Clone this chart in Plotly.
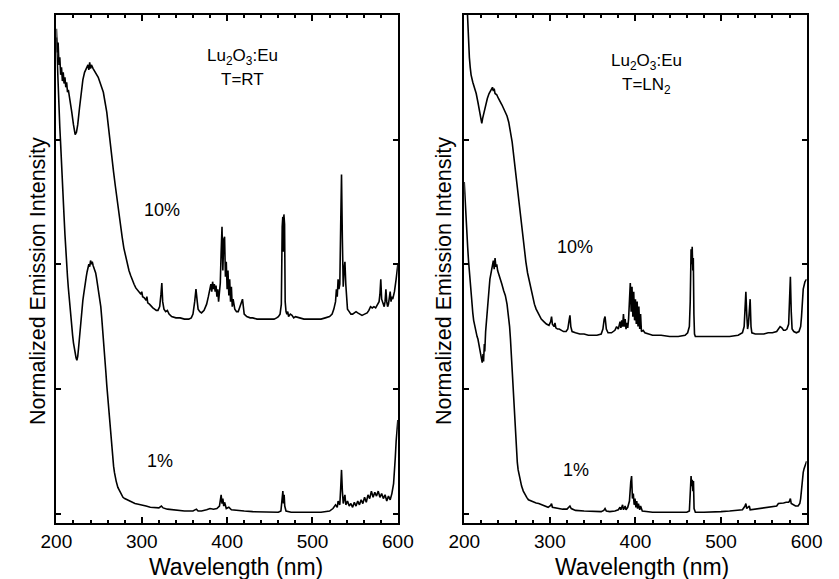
import plotly.graph_objects as go

# ---- Emission spectra of Lu2O3:Eu (wavelength in nm, normalized intensity, stacked) ----

# Room temperature, 10 % Eu
rt10_wl = [200, 201, 202, 203, 204, 205, 206, 207, 208, 209, 210, 211, 212, 213, 214, 216, 218, 220, 222, 223.5,
           225, 227, 229, 231, 233, 235, 237, 238, 239, 240, 241, 243, 245, 247, 249, 251, 253, 255, 257, 259,
           261, 263, 265, 267, 269, 271, 273, 275, 277, 279, 281, 283, 285, 287, 289, 291, 293, 295, 297, 299,
           300, 301, 303, 305, 306, 307, 309, 311, 313, 315, 317, 319, 321, 322.5, 323.5, 324.5, 326, 328, 330, 332,
           335, 340, 345, 350, 355, 358, 360, 362, 363.5, 365, 366, 368, 370, 373, 376, 378, 380, 381, 382, 383,
           384, 385, 386, 387, 388, 389, 390, 391, 392, 393, 394, 395, 396, 397, 398, 399, 400, 401, 402, 403,
           404, 405, 406, 407, 409, 411, 413, 415, 417, 418, 419, 420, 423, 427, 430, 435, 440, 445, 450, 455,
           458, 460, 462, 463.5, 464.5, 465.2, 465.8, 466.5, 467.3, 468, 469, 470, 471, 472, 474, 476, 478, 480, 485, 490,
           495, 500, 505, 510, 515, 520, 523, 525, 527, 528, 529, 530, 531, 532, 533, 534, 535, 536, 537, 538,
           539, 540, 541, 543, 545, 547, 549, 551, 553, 555, 558, 561, 564, 566, 568, 570, 572, 574, 576, 578,
           579, 580, 581, 582, 583, 584, 585, 586, 587, 588, 589, 590, 591, 592, 593, 594, 596, 598, 600]
rt10_int = [3.89, 3.70, 3.78, 3.60, 3.66, 3.52, 3.58, 3.47, 3.54, 3.45, 3.50, 3.42, 3.46, 3.38, 3.40, 3.32, 3.22, 3.12, 3.04, 3.06,
            3.12, 3.25, 3.38, 3.48, 3.54, 3.57, 3.60, 3.56, 3.62, 3.57, 3.60, 3.57, 3.55, 3.53, 3.50, 3.46, 3.42, 3.38, 3.30, 3.22,
            3.10, 2.96, 2.85, 2.74, 2.63, 2.52, 2.42, 2.32, 2.22, 2.13, 2.06, 2.00, 1.95, 1.91, 1.87, 1.84, 1.81, 1.79, 1.77, 1.76,
            1.78, 1.74, 1.73, 1.71, 1.74, 1.69, 1.68, 1.66, 1.65, 1.64, 1.63, 1.63, 1.66, 1.76, 1.85, 1.70, 1.64, 1.62, 1.63, 1.60,
            1.58, 1.57, 1.57, 1.56, 1.56, 1.57, 1.60, 1.70, 1.80, 1.70, 1.64, 1.62, 1.61, 1.63, 1.68, 1.74, 1.80, 1.84, 1.78, 1.86,
            1.80, 1.84, 1.78, 1.83, 1.74, 1.80, 1.70, 1.76, 1.85, 2.10, 2.30, 1.95, 2.20, 2.22, 1.90, 2.02, 1.80, 1.95, 1.75, 1.88,
            1.70, 1.82, 1.66, 1.72, 1.64, 1.62, 1.62, 1.66, 1.71, 1.72, 1.66, 1.60, 1.58, 1.57, 1.57, 1.56, 1.56, 1.56, 1.56, 1.56,
            1.57, 1.58, 1.60, 1.68, 2.30, 2.38, 2.10, 2.40, 2.32, 1.70, 1.62, 1.60, 1.62, 1.58, 1.60, 1.59, 1.57, 1.58, 1.57, 1.56,
            1.56, 1.56, 1.56, 1.56, 1.57, 1.58, 1.60, 1.64, 1.70, 1.80, 1.74, 1.88, 1.80, 1.84, 2.30, 2.72, 2.20, 1.82, 1.96, 2.02,
            1.84, 1.70, 1.64, 1.62, 1.60, 1.60, 1.61, 1.62, 1.61, 1.60, 1.59, 1.60, 1.61, 1.63, 1.66, 1.65, 1.66, 1.65, 1.68, 1.70,
            1.76, 1.88, 1.72, 1.70, 1.68, 1.66, 1.70, 1.80, 1.70, 1.66, 1.68, 1.72, 1.78, 1.70, 1.74, 1.72, 1.78, 1.88, 2.00]

# Room temperature, 1 % Eu
rt1_wl = [200, 201, 202, 203, 204, 205, 206, 207, 208, 209, 210, 211, 212, 213, 214, 215, 216, 217, 218, 219,
          220, 221, 222, 223, 224, 225, 226, 227, 228, 229, 230, 231, 232, 233, 234, 235, 236, 237, 238, 239,
          240, 241, 242, 243, 244, 245, 246, 247, 248, 249, 250, 251, 252, 253, 254, 255, 256, 257, 258, 259,
          260, 261, 262, 263, 264, 265, 266, 267, 268, 269, 270, 272, 274, 276, 278, 280, 283, 286, 289, 292,
          296, 300, 305, 310, 315, 320, 323, 325, 330, 340, 350, 360, 364, 366, 370, 376, 380, 384, 388, 391,
          393, 394, 395, 396, 397, 399, 402, 405, 410, 420, 430, 440, 450, 460, 463, 464.5, 465.3, 466, 466.8, 467.5,
          469, 475, 480, 490, 500, 510, 520, 524, 527, 529, 530, 532, 533, 534, 535, 536, 537, 538, 539, 541,
          543, 545, 547, 549, 551, 553, 555, 557, 559, 561, 563, 565, 567, 569, 571, 573, 575, 577, 579, 581,
          583, 585, 587, 589, 591, 593, 595, 596, 597, 598, 599, 600]
rt1_int = [3.82, 3.60, 3.42, 3.30, 3.10, 2.96, 2.78, 2.62, 2.50, 2.38, 2.24, 2.10, 2.00, 1.90, 1.81, 1.72, 1.64, 1.56, 1.50, 1.43,
           1.37, 1.32, 1.28, 1.25, 1.23, 1.26, 1.33, 1.42, 1.52, 1.60, 1.66, 1.71, 1.76, 1.82, 1.86, 1.90, 1.94, 1.97, 2.00, 1.98,
           2.03, 2.00, 2.02, 1.99, 1.97, 1.95, 1.93, 1.89, 1.85, 1.81, 1.77, 1.72, 1.66, 1.58, 1.50, 1.41, 1.32, 1.23, 1.13, 1.03,
           0.94, 0.86, 0.77, 0.68, 0.59, 0.51, 0.44, 0.38, 0.33, 0.29, 0.26, 0.21, 0.18, 0.15, 0.13, 0.12, 0.11, 0.10, 0.09, 0.08,
           0.075, 0.07, 0.06, 0.05, 0.045, 0.045, 0.06, 0.045, 0.035, 0.025, 0.02, 0.02, 0.035, 0.02, 0.02, 0.03, 0.04, 0.035, 0.04, 0.06,
           0.15, 0.08, 0.12, 0.06, 0.09, 0.04, 0.05, 0.03, 0.025, 0.02, 0.015, 0.015, 0.01, 0.01, 0.02, 0.12, 0.18, 0.08, 0.15, 0.06,
           0.02, 0.01, 0.01, 0.01, 0.01, 0.01, 0.02, 0.04, 0.07, 0.05, 0.10, 0.07, 0.20, 0.35, 0.18, 0.08, 0.12, 0.15, 0.07, 0.10,
           0.06, 0.08, 0.05, 0.09, 0.06, 0.10, 0.07, 0.11, 0.08, 0.13, 0.09, 0.15, 0.12, 0.18, 0.13, 0.17, 0.14, 0.18, 0.13, 0.16,
           0.12, 0.15, 0.10, 0.14, 0.11, 0.16, 0.24, 0.32, 0.45, 0.58, 0.68, 0.75]

# Liquid nitrogen, 10 % Eu
ln10_wl = [200, 202, 204, 205, 206, 207, 208, 210, 212, 214, 216, 218, 219.5, 220.5, 221.5, 223, 225, 227, 229, 231,
           233, 234, 235, 236, 238, 240, 242, 244, 246, 248, 250, 252, 254, 256, 258, 260, 262, 264, 266, 268,
           270, 272, 274, 276, 278, 280, 282, 284, 286, 288, 290, 293, 296, 299, 301, 302, 303, 305, 306, 307,
           309, 311, 313, 316, 319, 321, 322.5, 323.5, 324.5, 326, 330, 335, 340, 345, 350, 355, 360, 362, 363.5, 364.5,
           366, 368, 372, 376, 378, 380, 382, 383, 384, 385, 386, 387, 388, 389, 390, 391, 392, 393, 394, 395,
           396, 397, 398, 399, 400, 401, 402, 403, 404, 405, 406, 407, 409, 411, 415, 420, 430, 440, 450, 458,
           461, 463, 464, 465, 465.7, 466.3, 467, 467.6, 468.3, 469, 470, 475, 480, 490, 500, 510, 520, 525, 527, 528,
           529, 530, 531, 532, 533, 534, 535, 536, 540, 545, 550, 555, 560, 565, 567, 569, 571, 573, 575, 577,
           579, 580, 581, 582, 583, 585, 588, 591, 593, 594, 595, 596, 598, 600]
ln10_int = [4.60, 4.25, 3.98, 3.80, 3.66, 3.58, 3.52, 3.46, 3.42, 3.37, 3.30, 3.22, 3.16, 3.13, 3.17, 3.22, 3.28, 3.33, 3.37, 3.40,
            3.42, 3.39, 3.41, 3.37, 3.36, 3.33, 3.31, 3.28, 3.25, 3.22, 3.19, 3.14, 3.07, 2.98, 2.86, 2.74, 2.60, 2.47, 2.35, 2.24,
            2.13, 2.02, 1.93, 1.86, 1.79, 1.73, 1.68, 1.64, 1.61, 1.58, 1.56, 1.54, 1.52, 1.51, 1.54, 1.58, 1.52, 1.50, 1.53, 1.49,
            1.48, 1.48, 1.47, 1.46, 1.46, 1.48, 1.55, 1.59, 1.50, 1.46, 1.45, 1.44, 1.44, 1.43, 1.43, 1.43, 1.44, 1.48, 1.56, 1.58,
            1.48, 1.45, 1.45, 1.47, 1.50, 1.48, 1.54, 1.49, 1.55, 1.50, 1.60, 1.50, 1.56, 1.48, 1.53, 1.49, 1.56, 1.70, 1.85, 1.62,
            1.82, 1.58, 1.78, 1.55, 1.72, 1.52, 1.70, 1.50, 1.66, 1.48, 1.60, 1.46, 1.47, 1.45, 1.44, 1.43, 1.43, 1.42, 1.42, 1.43,
            1.45, 1.50, 1.70, 2.12, 2.00, 2.14, 1.95, 2.05, 1.60, 1.44, 1.42, 1.42, 1.42, 1.42, 1.42, 1.42, 1.43, 1.45, 1.50, 1.68,
            1.78, 1.60, 1.48, 1.52, 1.64, 1.72, 1.50, 1.45, 1.44, 1.44, 1.44, 1.45, 1.45, 1.46, 1.48, 1.50, 1.49, 1.47, 1.47, 1.48,
            1.52, 1.70, 1.90, 1.62, 1.48, 1.46, 1.45, 1.46, 1.50, 1.58, 1.70, 1.80, 1.86, 1.88]

# Liquid nitrogen, 1 % Eu
ln1_wl = [200, 201, 202, 203, 204, 205, 206, 207, 208, 209, 210, 211, 212, 213, 214, 215, 216, 217, 218, 219,
          220, 221, 222, 222.6, 223.5, 224, 225, 226, 227, 228, 229, 230, 231, 232, 233, 234, 235, 236, 237, 238,
          239, 240, 242, 244, 246, 248, 250, 252, 253, 254, 255, 256, 257, 258, 259, 260, 261, 262, 263, 264,
          265, 267, 269, 271, 273, 275, 278, 281, 284, 287, 290, 294, 298, 301, 302, 303, 306, 310, 315, 320,
          322, 323.5, 325, 330, 340, 350, 360, 363, 364.5, 366, 370, 376, 380, 382, 383, 385, 386, 388, 389, 391,
          393, 394.5, 395.5, 396.5, 397.5, 398.5, 399.5, 400.5, 401.5, 402.5, 403.5, 405, 406, 408, 412, 420, 430, 440, 450, 460,
          463, 464, 465, 465.7, 466.4, 467.1, 467.8, 468.5, 470, 480, 490, 500, 510, 520, 525, 528, 529, 530, 532, 533,
          534, 540, 545, 550, 555, 560, 565, 567, 570, 573, 576, 579, 580, 581, 582, 584, 587, 590, 592, 593,
          594, 595, 596, 597, 598, 599, 600]
ln1_int = [2.66, 2.50, 2.38, 2.26, 2.14, 2.03, 1.93, 1.84, 1.76, 1.68, 1.61, 1.55, 1.51, 1.47, 1.44, 1.42, 1.40, 1.36, 1.31, 1.27,
           1.23, 1.21, 1.28, 1.22, 1.36, 1.30, 1.46, 1.55, 1.64, 1.78, 1.80, 1.88, 1.92, 1.94, 1.97, 2.03, 1.96, 2.05, 1.98, 2.00,
           1.95, 1.93, 1.88, 1.84, 1.79, 1.75, 1.68, 1.57, 1.50, 1.40, 1.28, 1.15, 1.00, 0.84, 0.70, 0.58, 0.48, 0.41, 0.35, 0.31,
           0.27, 0.22, 0.18, 0.15, 0.13, 0.11, 0.10, 0.09, 0.085, 0.08, 0.07, 0.06, 0.05, 0.065, 0.08, 0.05, 0.045, 0.04, 0.035, 0.035,
           0.05, 0.06, 0.04, 0.025, 0.02, 0.015, 0.015, 0.025, 0.04, 0.02, 0.015, 0.02, 0.03, 0.05, 0.03, 0.07, 0.03, 0.06, 0.03, 0.05,
           0.10, 0.25, 0.30, 0.12, 0.16, 0.07, 0.12, 0.05, 0.10, 0.04, 0.08, 0.03, 0.06, 0.02, 0.015, 0.01, 0.01, 0.01, 0.01, 0.01,
           0.02, 0.12, 0.30, 0.22, 0.27, 0.18, 0.26, 0.04, 0.01, 0.01, 0.01, 0.015, 0.02, 0.025, 0.03, 0.06, 0.08, 0.04, 0.05, 0.06,
           0.03, 0.035, 0.04, 0.045, 0.05, 0.05, 0.06, 0.08, 0.08, 0.085, 0.09, 0.09, 0.10, 0.12, 0.08, 0.07, 0.06, 0.06, 0.08, 0.12,
           0.20, 0.28, 0.33, 0.36, 0.38, 0.40, 0.42]

x_ticks = [200, 300, 400, 500, 600]
y_ticks = [0, 1, 2, 3]

W, H = 839, 579
FONT = "Liberation Sans, Arial, sans-serif"

fig = go.Figure()
line = dict(color="black", width=1.6)
fig.add_trace(go.Scatter(x=rt10_wl, y=rt10_int, mode="lines", line=line, xaxis="x", yaxis="y"))
fig.add_trace(go.Scatter(x=rt1_wl, y=rt1_int, mode="lines", line=line, xaxis="x", yaxis="y"))
fig.add_trace(go.Scatter(x=ln10_wl, y=ln10_int, mode="lines", line=line, xaxis="x2", yaxis="y2"))
fig.add_trace(go.Scatter(x=ln1_wl, y=ln1_int, mode="lines", line=line, xaxis="x2", yaxis="y2"))


def px_x(p):
    return p / W


def px_y(p):
    return 1 - p / H


xa = dict(range=[200, 600], tickvals=x_ticks, ticks="inside", ticklen=6, tickwidth=2,
          minor=dict(dtick=20, tick0=200, ticks="inside", ticklen=3, tickwidth=1.5, tickcolor="black"),
          showline=True, linewidth=2, linecolor="black", mirror="allticks", tickcolor="black",
          showgrid=False, zeroline=False, tickfont=dict(family=FONT, size=19, color="black"))
ya = dict(range=[-0.076, 4.0], tickvals=y_ticks, ticks="inside", ticklen=5, tickwidth=2,
          showticklabels=False, showline=True, linewidth=2, linecolor="black", mirror="allticks",
          tickcolor="black", showgrid=False, zeroline=False)

fig.update_layout(
    width=W, height=H, margin=dict(l=0, r=0, t=0, b=0),
    paper_bgcolor="white", plot_bgcolor="white", showlegend=False,
    xaxis=dict(xa, domain=[px_x(42), px_x(397)], anchor="y"),
    yaxis=dict(ya, domain=[px_y(523), px_y(15)], anchor="x"),
    xaxis2=dict(xa, domain=[px_x(466), px_x(822)], anchor="y2"),
    yaxis2=dict(ya, domain=[px_y(523), px_y(15)], anchor="x2"),
)

txt = dict(family=FONT, color="black")
notes = [
    ("Wavelength (nm)", 229, 567, 23, 0),
    ("Wavelength (nm)", 651, 567, 23, 0),
    ("Normalized Emission Intensity", 23, 281, 21.5, -90),
    ("Normalized Emission Intensity", 445, 281, 21.5, -90),
    ("Lu<sub>2</sub>O<sub>3</sub>:Eu", 236, 57, 17, 0),
    ("T=RT", 236, 80, 17, 0),
    ("Lu<sub>2</sub>O<sub>3</sub>:Eu", 656, 62, 17, 0),
    ("T=LN<sub>2</sub>", 656, 86, 17, 0),
    ("10%", 152, 210, 18, 0),
    ("1%", 150, 461, 18, 0),
    ("10%", 581, 247, 18, 0),
    ("1%", 582, 470, 18, 0),
]
for text, x, y, size, ang in notes:
    fig.add_annotation(text=text, x=px_x(x), y=px_y(y), xref="paper", yref="paper",
                       showarrow=False, textangle=ang, font=dict(txt, size=size),
                       xanchor="center", yanchor="middle")

fig.write_html("out.html")
